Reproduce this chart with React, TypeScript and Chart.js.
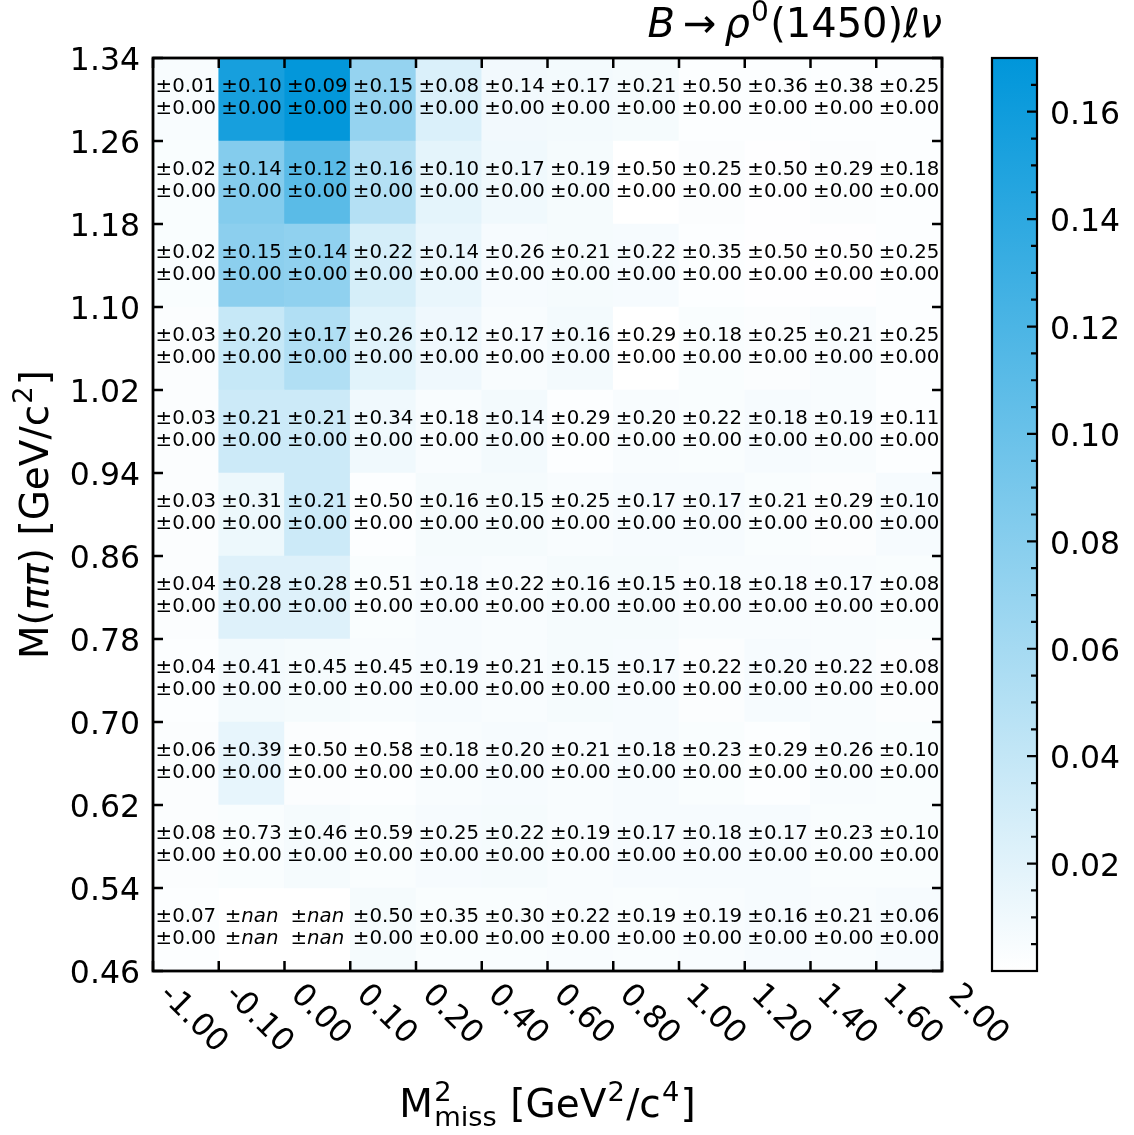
import React, { useEffect, useRef } from 'react';
import { Chart, registerables } from 'chart.js';

Chart.register(...registerables);

// ---------------- data ----------------
const X_EDGE_LABELS = ['-1.00', '-0.10', '0.00', '0.10', '0.20', '0.40', '0.60', '0.80', '1.00', '1.20', '1.40', '1.60', '2.00'];
const Y_EDGES = [0.46, 0.54, 0.62, 0.70, 0.78, 0.86, 0.94, 1.02, 1.10, 1.18, 1.26, 1.34];
const CB_TICKS = [0.02, 0.04, 0.06, 0.08, 0.10, 0.12, 0.14, 0.16];
const CB_MIN = 0;
const CB_MAX = 0.17;
const CB_MINOR_STEP = 0.005;

// cell values, rows from top (1.26-1.34) to bottom (0.46-0.54); null = nan
const VALUES: (number | null)[][] = [
  [0.005, 0.155, 0.168, 0.071, 0.025, 0.009, 0.008, 0.007, 0.002, 0.002, 0.002, 0.002],
  [0.004, 0.082, 0.110, 0.050, 0.018, 0.010, 0.007, 0.000, 0.003, 0.001, 0.003, 0.002],
  [0.004, 0.077, 0.074, 0.028, 0.015, 0.006, 0.007, 0.006, 0.002, 0.001, 0.001, 0.002],
  [0.003, 0.038, 0.052, 0.020, 0.011, 0.005, 0.008, 0.000, 0.004, 0.003, 0.005, 0.002],
  [0.003, 0.034, 0.034, 0.010, 0.005, 0.008, 0.002, 0.005, 0.004, 0.006, 0.005, 0.002],
  [0.003, 0.012, 0.034, 0.002, 0.007, 0.007, 0.005, 0.006, 0.006, 0.004, 0.003, 0.006],
  [0.003, 0.022, 0.022, 0.004, 0.006, 0.005, 0.007, 0.007, 0.005, 0.005, 0.005, 0.004],
  [0.002, 0.008, 0.007, 0.005, 0.006, 0.005, 0.007, 0.006, 0.003, 0.006, 0.005, 0.003],
  [0.003, 0.016, 0.003, 0.002, 0.005, 0.006, 0.005, 0.006, 0.004, 0.002, 0.005, 0.004],
  [0.003, 0.004, 0.007, 0.004, 0.006, 0.007, 0.005, 0.006, 0.006, 0.006, 0.004, 0.004],
  [0.002, null, null, 0.007, 0.004, 0.004, 0.005, 0.004, 0.005, 0.006, 0.005, 0.006],
];

// first annotation line (±x.xx), rows from top to bottom; null = nan
const ERR_STAT: (number | null)[][] = [
  [0.01, 0.10, 0.09, 0.15, 0.08, 0.14, 0.17, 0.21, 0.50, 0.36, 0.38, 0.25],
  [0.02, 0.14, 0.12, 0.16, 0.10, 0.17, 0.19, 0.50, 0.25, 0.50, 0.29, 0.18],
  [0.02, 0.15, 0.14, 0.22, 0.14, 0.26, 0.21, 0.22, 0.35, 0.50, 0.50, 0.25],
  [0.03, 0.20, 0.17, 0.26, 0.12, 0.17, 0.16, 0.29, 0.18, 0.25, 0.21, 0.25],
  [0.03, 0.21, 0.21, 0.34, 0.18, 0.14, 0.29, 0.20, 0.22, 0.18, 0.19, 0.11],
  [0.03, 0.31, 0.21, 0.50, 0.16, 0.15, 0.25, 0.17, 0.17, 0.21, 0.29, 0.10],
  [0.04, 0.28, 0.28, 0.51, 0.18, 0.22, 0.16, 0.15, 0.18, 0.18, 0.17, 0.08],
  [0.04, 0.41, 0.45, 0.45, 0.19, 0.21, 0.15, 0.17, 0.22, 0.20, 0.22, 0.08],
  [0.06, 0.39, 0.50, 0.58, 0.18, 0.20, 0.21, 0.18, 0.23, 0.29, 0.26, 0.10],
  [0.08, 0.73, 0.46, 0.59, 0.25, 0.22, 0.19, 0.17, 0.18, 0.17, 0.23, 0.10],
  [0.07, null, null, 0.50, 0.35, 0.30, 0.22, 0.19, 0.19, 0.16, 0.21, 0.06],
];

// second annotation line, rows from top to bottom; null = nan
const ERR_SYST: (number | null)[][] = [
  [0, 0, 0, 0, 0, 0, 0, 0, 0, 0, 0, 0],
  [0, 0, 0, 0, 0, 0, 0, 0, 0, 0, 0, 0],
  [0, 0, 0, 0, 0, 0, 0, 0, 0, 0, 0, 0],
  [0, 0, 0, 0, 0, 0, 0, 0, 0, 0, 0, 0],
  [0, 0, 0, 0, 0, 0, 0, 0, 0, 0, 0, 0],
  [0, 0, 0, 0, 0, 0, 0, 0, 0, 0, 0, 0],
  [0, 0, 0, 0, 0, 0, 0, 0, 0, 0, 0, 0],
  [0, 0, 0, 0, 0, 0, 0, 0, 0, 0, 0, 0],
  [0, 0, 0, 0, 0, 0, 0, 0, 0, 0, 0, 0],
  [0, 0, 0, 0, 0, 0, 0, 0, 0, 0, 0, 0],
  [0, null, null, 0, 0, 0, 0, 0, 0, 0, 0, 0],
];

// ---------------- styling ----------------
const W = 1134;
const H = 1135;
const FAMILY = '"DejaVu Sans", sans-serif';
const COLOR_LOW = [255, 255, 255];
const COLOR_HIGH = [0, 150, 218];
const TICK_FS = 31.5;
const ANN_FS = 19.8;
const AXIS_FS = 39;
const TITLE_FS = 40;

const font = (size: number, italic = false) => `${italic ? 'italic ' : ''}${size}px ${FAMILY}`;

function cmap(v: number): string {
  let f = (v - CB_MIN) / (CB_MAX - CB_MIN);
  f = Math.max(0, Math.min(1, f));
  const c = COLOR_LOW.map((lo, i) => Math.round(lo + (COLOR_HIGH[i] - lo) * f));
  return `rgb(${c[0]},${c[1]},${c[2]})`;
}

type Seg = { t?: string; it?: boolean; sup?: string; sub?: string };

function segWidth(ctx: CanvasRenderingContext2D, s: Seg, fs: number): number {
  if (s.t !== undefined) {
    ctx.font = font(fs, s.it);
    return ctx.measureText(s.t).width;
  }
  let a = 0;
  let b = 0;
  ctx.font = font(fs * 0.7, s.it);
  if (s.sup) a = ctx.measureText(s.sup).width;
  if (s.sub) b = ctx.measureText(s.sub).width;
  return Math.max(a, b) + 0.06 * fs;
}

function richWidth(ctx: CanvasRenderingContext2D, segs: Seg[], fs: number): number {
  return segs.reduce((acc, s) => acc + segWidth(ctx, s, fs), 0);
}

function drawRich(ctx: CanvasRenderingContext2D, segs: Seg[], x: number, y: number, fs: number) {
  let cx = x;
  ctx.textAlign = 'left';
  ctx.textBaseline = 'alphabetic';
  for (const s of segs) {
    if (s.t !== undefined) {
      ctx.font = font(fs, s.it);
      ctx.fillText(s.t, cx, y);
    } else {
      ctx.font = font(fs * 0.7, s.it);
      if (s.sup) ctx.fillText(s.sup, cx + 0.03 * fs, y - 0.4 * fs);
      if (s.sub) ctx.fillText(s.sub, cx + 0.03 * fs, y + 0.24 * fs);
    }
    cx += segWidth(ctx, s, fs);
  }
}

function errSegs(v: number | null): Seg[] {
  if (v === null) return [{ t: '±' }, { t: 'nan', it: true }];
  return [{ t: '±' + v.toFixed(2) }];
}

const TITLE_SEGS: Seg[] = [
  { t: 'B', it: true }, { t: '\u2009→\u2009' }, { t: 'ρ', it: true }, { sup: '0' }, { t: '(1450)' }, { t: 'ℓ', it: true }, { t: 'ν', it: true },
];
const Y_TITLE_SEGS: Seg[] = [{ t: 'M(' }, { t: 'ππ', it: true }, { t: ') [GeV/c' }, { sup: '2' }, { t: ']' }];
const X_TITLE_SEGS: Seg[] = [{ t: 'M' }, { sup: '2', sub: 'miss' }, { t: ' [GeV' }, { sup: '2' }, { t: '/c' }, { sup: '4' }, { t: ']' }];

const NROWS = Y_EDGES.length - 1;
const NCOLS = X_EDGE_LABELS.length - 1;

const extrasPlugin = {
  id: 'extras',
  afterDraw(chart: any) {
    const { ctx, chartArea: a, scales } = chart;
    const xs = scales.x;
    const ys = scales.y;
    const cb = scales.cb;
    ctx.save();
    ctx.fillStyle = '#000';

    // annotations
    for (let r = 0; r < NROWS; r++) {
      const yLo = ys.getPixelForValue(Y_EDGES[NROWS - 1 - r]);
      const yHi = ys.getPixelForValue(Y_EDGES[NROWS - r]);
      const cy = (yLo + yHi) / 2;
      for (let c = 0; c < NCOLS; c++) {
        const cx = xs.getPixelForValue(c + 0.5);
        const s1 = errSegs(ERR_STAT[r][c]);
        const s2 = errSegs(ERR_SYST[r][c]);
        drawRich(ctx, s1, cx - richWidth(ctx, s1, ANN_FS) / 2, cy - 7.8, ANN_FS);
        drawRich(ctx, s2, cx - richWidth(ctx, s2, ANN_FS) / 2, cy + 14.8, ANN_FS);
      }
    }

    // frame + inward ticks
    ctx.strokeStyle = '#000';
    ctx.lineWidth = 2.8;
    ctx.strokeRect(a.left, a.top, a.right - a.left, a.bottom - a.top);
    ctx.lineWidth = 2.5;
    ctx.beginPath();
    for (let i = 0; i <= NCOLS; i++) {
      const x = xs.getPixelForValue(i);
      ctx.moveTo(x, a.bottom);
      ctx.lineTo(x, a.bottom - 10);
      ctx.moveTo(x, a.top);
      ctx.lineTo(x, a.top + 10);
    }
    for (const v of Y_EDGES) {
      const y = ys.getPixelForValue(v);
      ctx.moveTo(a.left, y);
      ctx.lineTo(a.left + 10, y);
      ctx.moveTo(a.right, y);
      ctx.lineTo(a.right - 10, y);
    }
    ctx.stroke();

    // rotated x tick labels
    ctx.font = font(TICK_FS);
    ctx.textAlign = 'left';
    ctx.textBaseline = 'alphabetic';
    const s45 = Math.SQRT1_2;
    for (let i = 0; i <= NCOLS; i++) {
      const x = xs.getPixelForValue(i);
      const ox = x + 0.24 * TICK_FS * s45;
      const oy = a.bottom + 8 + 0.76 * TICK_FS * s45;
      ctx.save();
      ctx.translate(ox, oy);
      ctx.rotate(Math.PI / 4);
      ctx.fillText(X_EDGE_LABELS[i], 0, 0);
      ctx.restore();
    }

    // axis titles
    const xw = richWidth(ctx, X_TITLE_SEGS, AXIS_FS);
    drawRich(ctx, X_TITLE_SEGS, (a.left + a.right) / 2 - xw / 2, 1117, AXIS_FS);
    const yw = richWidth(ctx, Y_TITLE_SEGS, AXIS_FS);
    ctx.save();
    ctx.translate(48, (a.top + a.bottom) / 2);
    ctx.rotate(-Math.PI / 2);
    drawRich(ctx, Y_TITLE_SEGS, -yw / 2, 0, AXIS_FS);
    ctx.restore();

    // title
    const tw = richWidth(ctx, TITLE_SEGS, TITLE_FS);
    drawRich(ctx, TITLE_SEGS, a.right - tw, 37, TITLE_FS);

    // colorbar
    const cbL = a.right + 50;
    const cbW = 45;
    const cbTop = cb.getPixelForValue(CB_MAX);
    const cbBot = cb.getPixelForValue(CB_MIN);
    const g = ctx.createLinearGradient(0, cbBot, 0, cbTop);
    g.addColorStop(0, cmap(CB_MIN));
    g.addColorStop(1, cmap(CB_MAX));
    ctx.fillStyle = g;
    ctx.fillRect(cbL, cbTop, cbW, cbBot - cbTop);
    ctx.lineWidth = 2.2;
    ctx.strokeRect(cbL, cbTop, cbW, cbBot - cbTop);
    ctx.beginPath();
    const nMinor = Math.round((CB_MAX - CB_MIN) / CB_MINOR_STEP);
    for (let k = 1; k <= nMinor; k++) {
      const v = CB_MIN + k * CB_MINOR_STEP;
      if (v >= CB_MAX - 1e-9) continue;
      const isMajor = CB_TICKS.some((t) => Math.abs(t - v) < 1e-9);
      const y = cb.getPixelForValue(v);
      ctx.moveTo(cbL + cbW, y);
      ctx.lineTo(cbL + cbW - (isMajor ? 10 : 6), y);
    }
    ctx.stroke();
    ctx.restore();
  },
};

export default function App() {
  const ref = useRef<HTMLCanvasElement | null>(null);

  useEffect(() => {
    if (!ref.current) return;
    Chart.defaults.font.family = FAMILY;
    Chart.defaults.color = '#000';

    const cells: { x: number; y: [number, number] }[] = [];
    const colors: string[] = [];
    for (let r = 0; r < NROWS; r++) {
      for (let c = 0; c < NCOLS; c++) {
        const v = VALUES[r][c];
        if (v === null) continue;
        cells.push({ x: c + 0.5, y: [Y_EDGES[NROWS - 1 - r], Y_EDGES[NROWS - r]] });
        colors.push(cmap(v));
      }
    }

    const padLeft = 60;
    const chart = new Chart(ref.current, {
      type: 'bar',
      data: {
        datasets: [
          {
            data: cells as any,
            backgroundColor: colors,
            borderWidth: 0,
            barPercentage: 1,
            categoryPercentage: 1,
          },
        ],
      },
      options: {
        animation: false,
        responsive: false,
        maintainAspectRatio: false,
        devicePixelRatio: 1,
        layout: { autoPadding: false, padding: { left: padLeft, top: 58, right: 0, bottom: H - 971 } },
        plugins: { legend: { display: false }, tooltip: { enabled: false }, title: { display: false } },
        scales: {
          x: {
            type: 'linear',
            min: 0,
            max: NCOLS,
            offset: false,
            display: false,
            afterBuildTicks: (s: any) => {
              s.ticks = X_EDGE_LABELS.map((_, i) => ({ value: i }));
            },
          },
          y: {
            type: 'linear',
            position: 'left',
            min: Y_EDGES[0],
            max: Y_EDGES[Y_EDGES.length - 1],
            beginAtZero: false,
            afterBuildTicks: (s: any) => {
              s.ticks = Y_EDGES.map((v) => ({ value: v }));
            },
            afterFit: (s: any) => {
              s.width = 153 - padLeft;
              s.paddingTop = 0;
              s.paddingBottom = 0;
            },
            grid: { display: false, drawTicks: false },
            border: { display: false },
            ticks: {
              font: { size: TICK_FS, family: FAMILY },
              color: '#000',
              padding: 13,
              labelOffset: 4,
              callback: (v: any) => Number(v).toFixed(2),
            },
          },
          cb: {
            type: 'linear',
            position: 'right',
            min: CB_MIN,
            max: CB_MAX,
            beginAtZero: false,
            afterBuildTicks: (s: any) => {
              s.ticks = CB_TICKS.map((v) => ({ value: v }));
            },
            afterFit: (s: any) => {
              s.width = W - 942;
              s.paddingTop = 0;
              s.paddingBottom = 0;
            },
            grid: { display: false, drawTicks: false },
            border: { display: false },
            ticks: {
              font: { size: TICK_FS, family: FAMILY },
              color: '#000',
              padding: 108,
              labelOffset: 4,
              callback: (v: any) => Number(v).toFixed(2),
            },
          },
        },
      } as any,
      plugins: [extrasPlugin],
    });
    return () => chart.destroy();
  }, []);

  return (
    <div style={{ position: 'absolute', left: 0, top: 0, width: W, height: H, background: '#fff' }}>
      <canvas ref={ref} width={W} height={H} style={{ display: 'block', width: W, height: H }} />
    </div>
  );
}
